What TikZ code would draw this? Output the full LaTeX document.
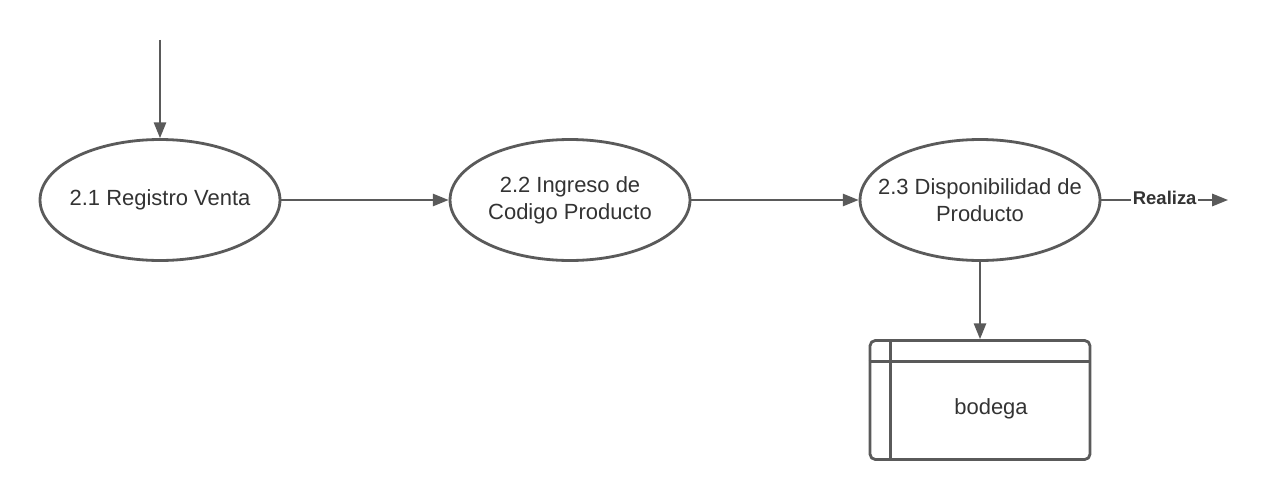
\documentclass[tikz,border=0pt]{standalone}
\usepackage{fontspec}
\setmainfont{Liberation Sans}
\usetikzlibrary{shapes.geometric, arrows.meta, calc}
\definecolor{linegray}{HTML}{5A5A5A}
\definecolor{textgray}{HTML}{333333}

\begin{document}
\begin{tikzpicture}[x=0.02cm, y=-0.02cm, line join=round,
    font=\fontsize{12.5}{15.3}\selectfont, text=textgray,
    proceso/.style={draw=linegray, line width=1.6pt, ellipse, fill=white,
        minimum width=4.8cm, minimum height=2.42cm, align=center,
        inner xsep=-1.2cm, inner ysep=0pt},
    almacen/.style={draw=linegray, line width=1.6pt, rectangle, rounded corners=3pt,
        minimum width=4.4cm, minimum height=2.38cm, inner sep=0pt},
    flujo/.style={draw=linegray, line width=1.1pt,
        -{Triangle[length=9pt, width=7pt]}, color=linegray}]

    % canvas 1270 x 500 px, y grows downwards
    \useasboundingbox (0,0) rectangle (1270,500);

    % free ends of the open flows
    \coordinate (entrada) at (160,40);
    \coordinate (salida) at (1228,200);

    % processes
    \node[proceso] (p21) at (160,200) {2.1 Registro Venta};
    \node[proceso] (p22) at (570,200) {2.2 Ingreso de\\Codigo Producto};
    \node[proceso] (p23) at (980,200) {2.3 Disponibilidad de\\Producto};

    % data store
    \node[almacen] (bodega) at (980,400) {};
    \draw[draw=linegray, line width=1.6pt]
        ($(bodega.north west)+(0,22)$) -- ($(bodega.north east)+(0,22)$);
    \draw[draw=linegray, line width=1.6pt]
        ($(bodega.north west)+(22,0)$) -- ($(bodega.south west)+(22,0)$);
    \node (bodegatxt) at (991,409) {bodega};

    % flows
    \draw[flujo] (entrada) -- (p21.north);
    \draw[flujo] (p21.east) -- (p22.west);
    \draw[flujo] (p22.east) -- (p23.west);
    \draw[flujo] (p23.east) -- node[fill=white, inner sep=1pt, text=textgray,
        font=\fontsize{10.5}{12}\selectfont\bfseries, yshift=1pt] {Realiza} (salida);
    \draw[flujo] (p23.south) -- (bodega.north);

\end{tikzpicture}
\end{document}
